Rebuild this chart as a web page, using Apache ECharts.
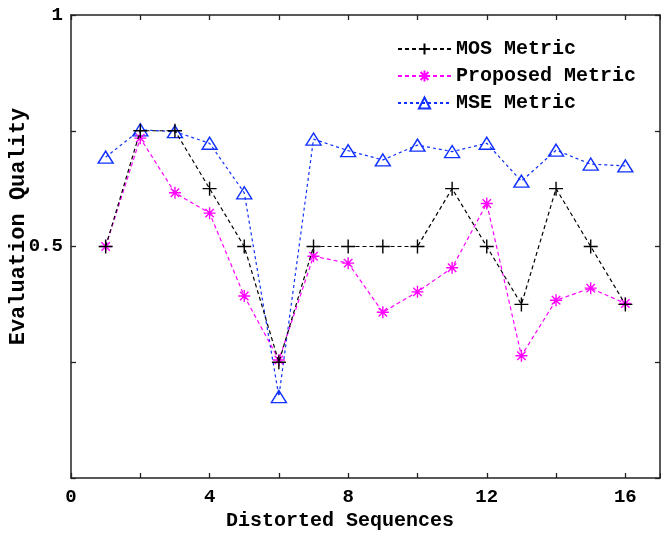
<!DOCTYPE html>
<html>
<head>
<meta charset="utf-8">
<script src="https://cdn.jsdelivr.net/npm/echarts@6/dist/echarts.min.js"></script>
<style>html,body{margin:0;padding:0;background:#fff;}#c{width:661px;height:536px;}</style>
</head>
<body>
<div id="c"></div>
<script>
const sequences = [1,2,3,4,5,6,7,8,9,10,11,12,13,14,15,16];
const mosMetric = [0.5,0.75,0.75,0.625,0.5,0.25,0.5,0.5,0.5,0.5,0.625,0.5,0.375,0.625,0.5,0.375];
const proposedMetric = [0.5,0.734,0.616,0.572,0.393,0.255,0.479,0.464,0.358,0.402,0.454,0.593,0.264,0.384,0.41,0.377];
const mseMetric = [0.693,0.752,0.748,0.723,0.616,0.176,0.732,0.707,0.687,0.719,0.705,0.723,0.641,0.708,0.678,0.674];
const seriesNames = ['MOS Metric','Proposed Metric','MSE Metric'];
const xTickLabels = [0,4,8,12,16];
const yTickLabels = [0.5,1];

const FONT = '"Liberation Mono", monospace';
const pair = arr => sequences.map((s,i)=>[s,arr[i]]);
const plusPath = 'path://M0,7L14,7M7,0L7,14';
const starPath = 'path://M0,6L12,6M6,0L6,12M1.8,1.8L10.2,10.2M1.8,10.2L10.2,1.8';

const chart = echarts.init(document.getElementById('c'), null, {renderer:'canvas'});
const axisLine = {show:true, onZero:false, lineStyle:{color:'#222', width:1.5}};
const tick = {inside:true, length:5, lineStyle:{color:'#222', width:1.3}};
chart.setOption({
  animation:false,
  backgroundColor:'#fff',
  grid:{left:71, right:1, top:15, bottom:58, containLabel:false, outerBoundsMode:'none'},
  legend:{
    orient:'vertical', left:392, top:34, itemWidth:53, itemHeight:14, itemGap:7,
    textStyle:{fontFamily:FONT, fontWeight:'bold', fontSize:20, color:'#000'},
    data:seriesNames
  },
  xAxis:[{
    type:'value', min:0, max:17, interval:2,
    name:'Distorted Sequences', nameLocation:'middle', nameGap:33, nameMoveOverlap:false,
    nameTextStyle:{fontFamily:FONT, fontWeight:'bold', fontSize:20, color:'#000', padding:[0,51,0,0]},
    axisLine:axisLine, splitLine:{show:false}, axisTick:tick,
    axisLabel:{fontFamily:FONT, fontWeight:'bold', fontSize:19, color:'#000', margin:10,
      formatter:v=> xTickLabels.includes(v) ? String(v) : ''}
  },{
    type:'value', min:0, max:17, interval:2, position:'top',
    axisLine:axisLine, splitLine:{show:false}, axisTick:tick,
    axisLabel:{show:false}
  }],
  yAxis:[{
    type:'value', min:0, max:1, interval:0.25,
    name:'Evaluation Quality', nameLocation:'middle', nameGap:42, nameMoveOverlap:false,
    nameTextStyle:{fontFamily:FONT, fontWeight:'bold', fontSize:22, color:'#000', padding:[0,0,0,40]},
    axisLine:axisLine, splitLine:{show:false}, axisTick:tick,
    axisLabel:{fontFamily:FONT, fontWeight:'bold', fontSize:19, color:'#000', margin:8,
      formatter:v=> yTickLabels.includes(v) ? String(v) : ''}
  },{
    type:'value', min:0, max:1, interval:0.25, position:'right',
    axisLine:axisLine, splitLine:{show:false}, axisTick:tick,
    axisLabel:{show:false}
  }],
  series:[
    {name:seriesNames[0], type:'line', data:pair(mosMetric), symbol:plusPath, symbolSize:14,
      lineStyle:{color:'#000', width:1.2, type:[4,3]},
      itemStyle:{color:'#000', borderColor:'#000', borderWidth:1.4}, z:3},
    {name:seriesNames[1], type:'line', data:pair(proposedMetric), symbol:starPath, symbolSize:12,
      lineStyle:{color:'#ff00ff', width:1.2, type:[4,3]},
      itemStyle:{color:'#ff00ff', borderColor:'#ff00ff', borderWidth:1.4}, z:2},
    {name:seriesNames[2], type:'line', data:pair(mseMetric), symbol:'triangle', symbolSize:[15,12],
      lineStyle:{color:'#1030ff', width:1.2, type:[3,3]},
      itemStyle:{color:'rgba(255,255,255,0)', borderColor:'#1030ff', borderWidth:1.4}, z:1}
  ]
});
</script>
</body>
</html>
